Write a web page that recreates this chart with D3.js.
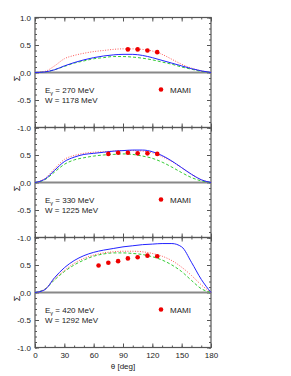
<!DOCTYPE html>
<html>
<head>
<meta charset="utf-8">
<script src="https://cdn.jsdelivr.net/npm/d3@7"></script>
<style>
  body { margin: 0; background: #fff; }
  svg { font-family: "Liberation Sans", Arial, sans-serif; }
</style>
</head>
<body>
<svg id="chart" width="291" height="376"></svg>
<script>
// angles for the model curves
const theta = [0,10,20,30,40,50,60,70,80,90,100,110,120,130,140,150,160,170,180];

const energies = ["270", "330", "420"];
const wValues = ["1178", "1225", "1292"];

// model curves, one per panel
const blue270 = [0,0.01,0.05,0.12,0.18,0.23,0.27,0.30,0.32,0.33,0.33,0.31,0.27,0.22,0.17,0.12,0.07,0.03,0];
const red270 = [0,0.02,0.12,0.25,0.31,0.35,0.38,0.40,0.42,0.43,0.43,0.42,0.39,0.33,0.24,0.15,0.08,0.03,0];
const green270 = [0,0.01,0.05,0.11,0.17,0.21,0.25,0.27,0.29,0.29,0.28,0.26,0.23,0.19,0.15,0.10,0.06,0.02,0];

const blue330 = [0,0.06,0.22,0.38,0.46,0.51,0.53,0.55,0.57,0.58,0.59,0.59,0.56,0.49,0.39,0.27,0.15,0.05,0];
const red330 = [0,0.07,0.25,0.42,0.49,0.53,0.55,0.56,0.57,0.58,0.58,0.57,0.54,0.47,0.38,0.27,0.15,0.05,0];
const green330 = [0,0.05,0.19,0.33,0.41,0.45,0.48,0.50,0.51,0.52,0.51,0.48,0.44,0.37,0.28,0.18,0.09,0.03,0];

const blue420 = [0,0.05,0.27,0.45,0.58,0.67,0.73,0.77,0.80,0.83,0.85,0.87,0.88,0.89,0.89,0.83,0.55,0.24,0];
const red420 = [0,0.06,0.25,0.40,0.53,0.62,0.68,0.72,0.74,0.75,0.75,0.74,0.71,0.66,0.58,0.46,0.31,0.14,0];
const green420 = [0,0.06,0.23,0.38,0.50,0.59,0.66,0.70,0.72,0.72,0.71,0.69,0.65,0.59,0.50,0.38,0.22,0.07,0];

// MAMI data
const mamiTheta270 = [95,105,115,125];
const mamiSigma270 = [0.42,0.42,0.40,0.37];
const mamiTheta330 = [75,85,95,105,115,125];
const mamiSigma330 = [0.52,0.54,0.54,0.53,0.53,0.52];
const mamiTheta420 = [65,75,85,95,105,115,125];
const mamiSigma420 = [0.49,0.54,0.57,0.62,0.64,0.67,0.66];

const xTicks = [0,30,60,90,120,150,180];
const yTicks = [-1,-0.5,0,0.5,1];

const panels = [
  {blue: blue270, red: red270, green: green270, mt: mamiTheta270, ms: mamiSigma270},
  {blue: blue330, red: red330, green: green330, mt: mamiTheta330, ms: mamiSigma330},
  {blue: blue420, red: red420, green: green420, mt: mamiTheta420, ms: mamiSigma420}
];

const left = 35, right = 211, top0 = 17.5, ph = 110;
const svg = d3.select("#chart");
const x = d3.scaleLinear([0,180], [left, right]);
const frame = "#555";

panels.forEach((p, i) => {
  const top = top0 + i*ph;
  const y = d3.scaleLinear([-1,1], [top+ph, top]);
  const g = svg.append("g");

  const minorY = d3.range(-10, 11).map(v => v/10);
  const minorX = d3.range(0, 181, 10);

  // axes with inward ticks
  const axes = [
    [d3.axisLeft(y), `translate(${left},0)`, minorY, yTicks],
    [d3.axisRight(y), `translate(${right},0)`, minorY, yTicks],
    [d3.axisTop(x), `translate(0,${top})`, minorX, xTicks],
    [d3.axisBottom(x), `translate(0,${top+ph})`, minorX, xTicks]
  ];
  axes.forEach(([ax, tr, minor, major]) => {
    g.append("g").attr("transform", tr)
      .call(ax.tickValues(minor).tickSize(-2).tickFormat(""))
      .call(a => a.select(".domain").remove())
      .selectAll("line").attr("stroke", frame);
    g.append("g").attr("transform", tr)
      .call(ax.tickValues(major).tickSize(-4).tickFormat(""))
      .call(a => a.select(".domain").remove())
      .selectAll("line").attr("stroke", frame);
  });

  // y labels
  const yl = d3.axisLeft(y)
    .tickValues(i === 0 ? yTicks : yTicks.filter(v => v < 1))
    .tickSize(0).tickPadding(4)
    .tickFormat(d3.format(".1f"));
  g.append("g").attr("transform", `translate(${left},0)`)
    .call(yl)
    .call(a => a.select(".domain").remove())
    .selectAll("text").attr("font-size", 8).attr("fill", "#222")
    .attr("font-family", "Liberation Sans, Arial, sans-serif")
    .text(d => d3.format(".1f")(d).replace("−", "-"));

  // frame
  g.append("rect").attr("x", left).attr("y", top)
    .attr("width", right-left).attr("height", ph)
    .attr("fill", "none").attr("stroke", frame).attr("stroke-width", 1.2);

  // zero line
  g.append("line").attr("x1", left).attr("x2", right)
    .attr("y1", y(0)).attr("y2", y(0))
    .attr("stroke", "#888").attr("stroke-width", 2);

  const line = d3.line()
    .curve(d3.curveMonotoneX)
    .x((d, j) => x(theta[j]))
    .y(d => y(d));

  g.append("path").attr("d", line(p.green)).attr("fill", "none")
    .attr("stroke", "#33cc33").attr("stroke-width", 1).attr("stroke-dasharray", "3,2");
  g.append("path").attr("d", line(p.red)).attr("fill", "none")
    .attr("stroke", "#ff5555").attr("stroke-width", 1).attr("stroke-dasharray", "1,1.5");
  g.append("path").attr("d", line(p.blue)).attr("fill", "none")
    .attr("stroke", "#2222ff").attr("stroke-width", 1);

  g.selectAll("circle.d").data(p.mt).join("circle")
    .attr("cx", d => x(d)).attr("cy", (d, j) => y(p.ms[j]))
    .attr("r", 2.3).attr("fill", "#ee0000");

  // labels
  const t = g.append("text").attr("x", 45).attr("y", top+75)
    .attr("font-size", 8).attr("fill", "#222");
  t.append("tspan").text("E");
  t.append("tspan").attr("font-size", 5.5).attr("dy", 2).text("γ");
  t.append("tspan").attr("dy", -2).text(" = " + energies[i] + " MeV");
  g.append("text").attr("x", 45).attr("y", top+85)
    .attr("font-size", 8).attr("fill", "#222")
    .text("W = " + wValues[i] + " MeV");

  g.append("circle").attr("cx", 161).attr("cy", top+72).attr("r", 2.3).attr("fill", "#ee0000");
  g.append("text").attr("x", 170).attr("y", top+75)
    .attr("font-size", 8).attr("fill", "#222").text("MAMI");

  g.append("text")
    .attr("transform", `translate(20,${y(0)+6}) rotate(-90)`)
    .attr("text-anchor", "middle").attr("font-size", 9).attr("fill", "#222")
    .text("Σ");
});

// x tick labels
svg.append("g").attr("transform", `translate(0,${top0+3*ph})`)
  .call(d3.axisBottom(x).tickValues(xTicks).tickSize(0).tickPadding(5))
  .call(a => a.select(".domain").remove())
  .selectAll("text").attr("font-size", 8).attr("fill", "#222")
  .attr("font-family", "Liberation Sans, Arial, sans-serif");

svg.append("text").attr("x", 123).attr("y", 369)
  .attr("text-anchor", "middle").attr("font-size", 8).attr("fill", "#222")
  .text("θ [deg]");
</script>
</body>
</html>
